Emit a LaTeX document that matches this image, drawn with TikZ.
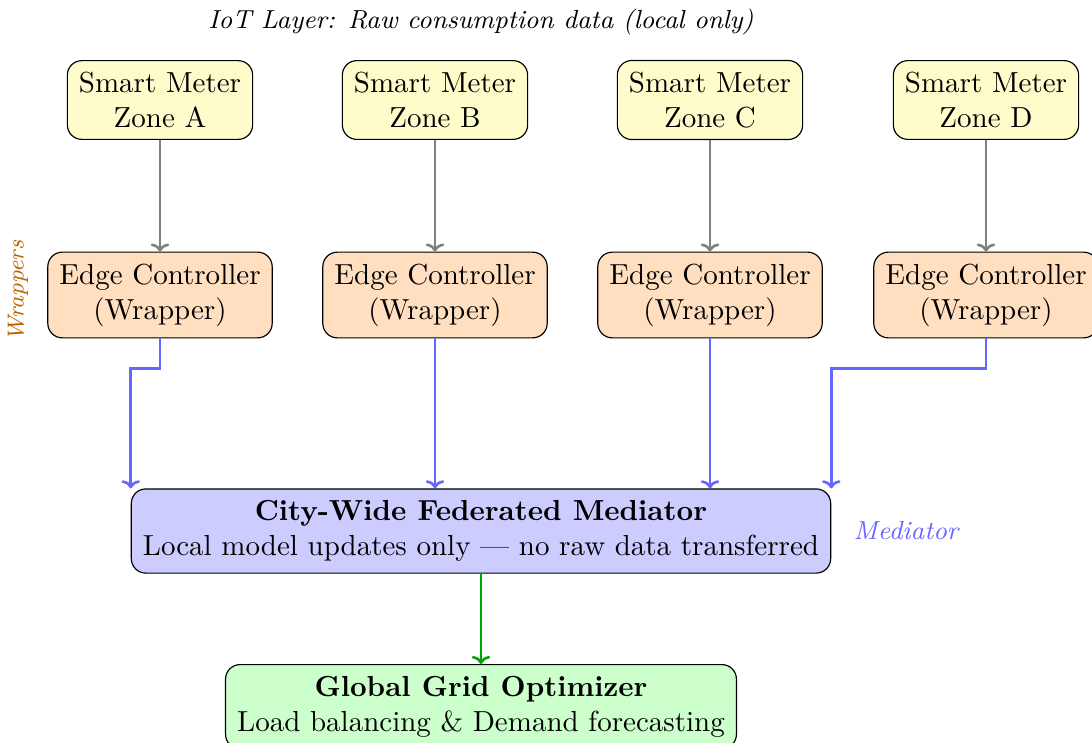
\documentclass[tikz,border=0pt]{standalone}
\usetikzlibrary{calc,arrows.meta}
\begin{document}
\begin{tikzpicture}[x=0.3448pt,y=-0.3448pt,
  box/.style={draw=black, rounded corners=5pt, align=center, inner sep=4pt, font=\normalsize},
  meter/.style={box, fill=yellow!20},
  edgebox/.style={box, fill=orange!25},
  medbox/.style={box, fill=blue!20},
  optbox/.style={box, fill=green!20},
  tip/.style={-{To[length=2.8pt,width=6.4pt]}},
  grayarrow/.style={tip, gray, line width=0.9pt},
  bluearrow/.style={tip, blue!60, line width=0.9pt},
  greenarrow/.style={tip, green!65!black, line width=0.9pt},
  lbl/.style={font=\small\itshape}]
\useasboundingbox (0,0) rectangle (1092,742);
\node[lbl] (title) at (481,22) {IoT Layer: Raw consumption data (local only)};
\node[meter] (mA) at (160,100) {Smart Meter\\Zone A};
\node[meter] (mB) at (435,100) {Smart Meter\\Zone B};
\node[meter] (mC) at (710,100) {Smart Meter\\Zone C};
\node[meter] (mD) at (986,100) {Smart Meter\\Zone D};
\node[edgebox] (eA) at (160,295) {Edge Controller\\(Wrapper)};
\node[edgebox] (eB) at (435,295) {Edge Controller\\(Wrapper)};
\node[edgebox] (eC) at (710,295) {Edge Controller\\(Wrapper)};
\node[edgebox] (eD) at (986,295) {Edge Controller\\(Wrapper)};
\node[font=\footnotesize\itshape, text=orange!75!black, rotate=90] (wrap) at (18,291) {Wrappers};
\node[medbox] (med) at (481,531) {\textbf{City-Wide Federated Mediator}\\Local model updates only --- no raw data transferred};
\node[lbl, text=blue!60] (medl) at (906,531) {Mediator};
\node[optbox, anchor=north] (opt) at (481,664) {\textbf{Global Grid Optimizer}\\Load balancing \& Demand forecasting};
\foreach \z in {A,B,C,D}{\draw[grayarrow] (m\z.south) -- (e\z.north);}
\draw[bluearrow] (eA.south) -- ++(0,30) -| (med.north west);
\draw[bluearrow] (eB.south) -- (eB.south |- med.north);
\draw[bluearrow] (eC.south) -- (eC.south |- med.north);
\draw[bluearrow] (eD.south) -- ++(0,30) -| (med.north east);
\draw[greenarrow] (med.south) -- (opt.north);
\end{tikzpicture}
\end{document}
